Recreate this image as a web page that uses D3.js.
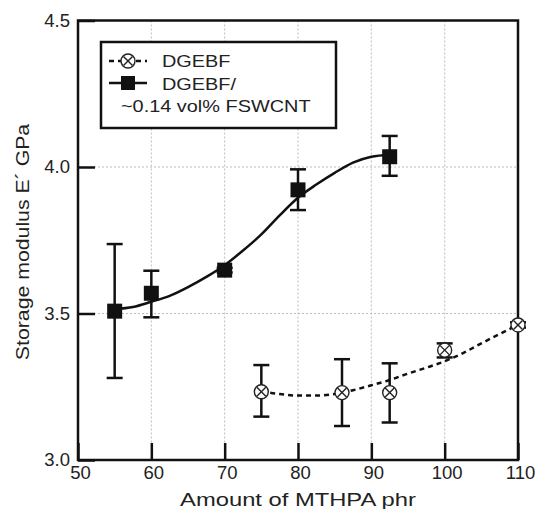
<!DOCTYPE html>
<html lang="en">
<head>
<meta charset="UTF-8">
<title>Storage modulus vs MTHPA</title>
<style>
    body { margin: 0; background: #fff; }
    svg { display: block; }
    text { font-family: 'Liberation Sans', Arial, Helvetica, sans-serif; fill: #222; }
    .grid line { stroke: #bdbdbd; stroke-width: 1; stroke-dasharray: 2,2; }
</style>
</head>
<body>
<svg width="535" height="509"></svg>
<script src="https://d3js.org/d3.v7.min.js"></script>
<script>
// tick values
var xTicks = [50, 60, 70, 80, 90, 100, 110];
var yTicks = [3.0, 3.5, 4.0, 4.5];

// DGEBF / ~0.14 vol% FSWCNT (squares)
var cntX   = [55, 60, 70, 80, 92.5];
var cntY   = [3.508, 3.569, 3.648, 3.922, 4.035];
var cntLo  = [3.28, 3.487, 3.64, 3.853, 3.97];
var cntHi  = [3.737, 3.646, 3.656, 3.992, 4.106];

// neat DGEBF (crossed circles)
var neatX  = [75, 86, 92.5, 100, 110];
var neatY  = [3.233, 3.23, 3.23, 3.375, 3.461];
var neatLo = [3.148, 3.116, 3.128, 3.35, 3.452];
var neatHi = [3.324, 3.344, 3.33, 3.398, 3.47];

// fitted curves
var cntFitX  = [55, 57.5, 60, 62.5, 65, 67.5, 70, 72.5, 75, 77.5, 80, 82.5, 85, 87.5, 90, 92.5];
var cntFitY  = [3.515, 3.522, 3.54, 3.56, 3.59, 3.625, 3.665, 3.715, 3.77, 3.835, 3.895, 3.94, 3.98, 4.015, 4.035, 4.042];
var neatFitX = [75, 77.5, 80, 82.5, 85, 87.5, 90, 92.5, 95, 97.5, 100, 102.5, 105, 107.5, 110];
var neatFitY = [3.235, 3.225, 3.22, 3.22, 3.225, 3.238, 3.255, 3.273, 3.295, 3.315, 3.337, 3.365, 3.398, 3.43, 3.461];

var svg = d3.select("svg");
var margin = {top: 20.5, left: 78, right: 17, bottom: 49};
var width = 535 - margin.left - margin.right,
    height = 509 - margin.top - margin.bottom;

var x = d3.scaleLinear().domain([50, 110]).range([0, width]);
var y = d3.scaleLinear().domain([3.0, 4.5]).range([height, 0]);

var g = svg.append("g")
    .attr("transform", "translate(" + margin.left + "," + margin.top + ")");

// dotted grid
var grid = g.append("g").attr("class", "grid");
grid.selectAll(".vx")
    .data(xTicks.slice(1, -1))
    .enter().append("line")
    .attr("x1", function(d) { return x(d); })
    .attr("x2", function(d) { return x(d); })
    .attr("y1", 0).attr("y2", height);
grid.selectAll(".hy")
    .data(yTicks.slice(1, -1))
    .enter().append("line")
    .attr("x1", 0).attr("x2", width)
    .attr("y1", function(d) { return y(d); })
    .attr("y2", function(d) { return y(d); });

// axes, ticks pointing inward
var xAxis = d3.axisBottom(x).tickValues(xTicks).tickSize(-17).tickPadding(6)
    .tickFormat(d3.format("d"));
var yAxis = d3.axisLeft(y).tickValues(yTicks).tickSize(-17).tickPadding(8)
    .tickFormat(d3.format(".1f"));

var gx = g.append("g").attr("transform", "translate(0," + height + ")").call(xAxis);
var gy = g.append("g").call(yAxis);
[gx, gy].forEach(function(a) {
    a.select(".domain").remove();
    a.selectAll(".tick line").attr("stroke", "#111").attr("stroke-width", 2.5);
    a.selectAll(".tick text").attr("font-size", "18.5px").style("fill", "#222");
});
gx.selectAll(".tick text").attr("dx", 2);

// frame
g.append("rect")
    .attr("width", width).attr("height", height)
    .attr("fill", "none").attr("stroke", "#111").attr("stroke-width", 2.5);

// axis titles (the original lettering is a wide sans, so stretch it a bit)
svg.append("text")
    .attr("transform", "translate(" + (margin.left + width / 2) + ",506) scale(1.25,1)")
    .attr("text-anchor", "middle").attr("font-size", "19px")
    .text("Amount of MTHPA phr");
svg.append("text")
    .attr("transform", "translate(29,242) rotate(-90) scale(1.12,1)")
    .attr("text-anchor", "middle").attr("font-size", "19px")
    .text("Storage modulus E\u00B4 GPa");

var line = d3.line()
    .x(function(d) { return x(d[0]); })
    .y(function(d) { return y(d[1]); })
    .curve(d3.curveMonotoneX);

// fitted lines
g.append("path")
    .datum(cntFitX.map(function(v, i) { return [v, cntFitY[i]]; }))
    .attr("fill", "none").attr("stroke", "#111").attr("stroke-width", 2.5)
    .attr("d", line);
g.append("path")
    .datum(neatFitX.map(function(v, i) { return [v, neatFitY[i]]; }))
    .attr("fill", "none").attr("stroke", "#111").attr("stroke-width", 2.5)
    .attr("stroke-dasharray", "5,4")
    .attr("d", line);

// error bars
function errorBars(xs, lo, hi) {
    var eb = g.append("g").attr("stroke", "#111").attr("stroke-width", 2.5);
    xs.forEach(function(v, i) {
        var cx = x(v);
        eb.append("line").attr("x1", cx).attr("x2", cx).attr("y1", y(lo[i])).attr("y2", y(hi[i]));
        eb.append("line").attr("x1", cx - 8).attr("x2", cx + 8).attr("y1", y(lo[i])).attr("y2", y(lo[i]));
        eb.append("line").attr("x1", cx - 8).attr("x2", cx + 8).attr("y1", y(hi[i])).attr("y2", y(hi[i]));
    });
}
errorBars(cntX, cntLo, cntHi);
errorBars(neatX, neatLo, neatHi);

// crossed circle marker
function crossCircle(sel, cx, cy) {
    var m = sel.append("g").attr("transform", "translate(" + cx + "," + cy + ")")
        .attr("stroke", "#222").attr("stroke-width", 1.4).attr("fill", "none");
    m.append("circle").attr("r", 7).attr("fill", "#fff");
    m.append("line").attr("x1", -4.5).attr("y1", -4.5).attr("x2", 4.5).attr("y2", 4.5);
    m.append("line").attr("x1", -4.5).attr("y1", 4.5).attr("x2", 4.5).attr("y2", -4.5);
}

neatX.forEach(function(v, i) { crossCircle(g, x(v), y(neatY[i])); });

g.selectAll(".sq")
    .data(cntX)
    .enter().append("rect")
    .attr("x", function(d) { return x(d) - 7.5; })
    .attr("y", function(d, i) { return y(cntY[i]) - 7.5; })
    .attr("width", 15).attr("height", 15)
    .attr("fill", "#111");

// legend
var lg = svg.append("g");
lg.append("rect")
    .attr("x", 101).attr("y", 42).attr("width", 235).attr("height", 86)
    .attr("fill", "#fff").attr("stroke", "#111").attr("stroke-width", 2.5);
lg.append("line").attr("x1", 109).attr("x2", 147).attr("y1", 61).attr("y2", 61)
    .attr("stroke", "#111").attr("stroke-width", 2.5).attr("stroke-dasharray", "5,4");
crossCircle(lg, 128, 61);
lg.append("line").attr("x1", 109).attr("x2", 147).attr("y1", 83).attr("y2", 83)
    .attr("stroke", "#111").attr("stroke-width", 2.5);
lg.append("rect").attr("x", 121).attr("y", 76).attr("width", 14).attr("height", 14).attr("fill", "#111");
var legendText = [
    {label: "DGEBF", x: 162, y: 67},
    {label: "DGEBF/", x: 162, y: 90},
    {label: "~0.14 vol% FSWCNT", x: 121, y: 112}
];
lg.selectAll(".lt")
    .data(legendText)
    .enter().append("text")
    .attr("transform", function(d) { return "translate(" + d.x + "," + d.y + ") scale(1.17,1)"; })
    .attr("font-size", "17px")
    .text(function(d) { return d.label; });
</script>
</body>
</html>
